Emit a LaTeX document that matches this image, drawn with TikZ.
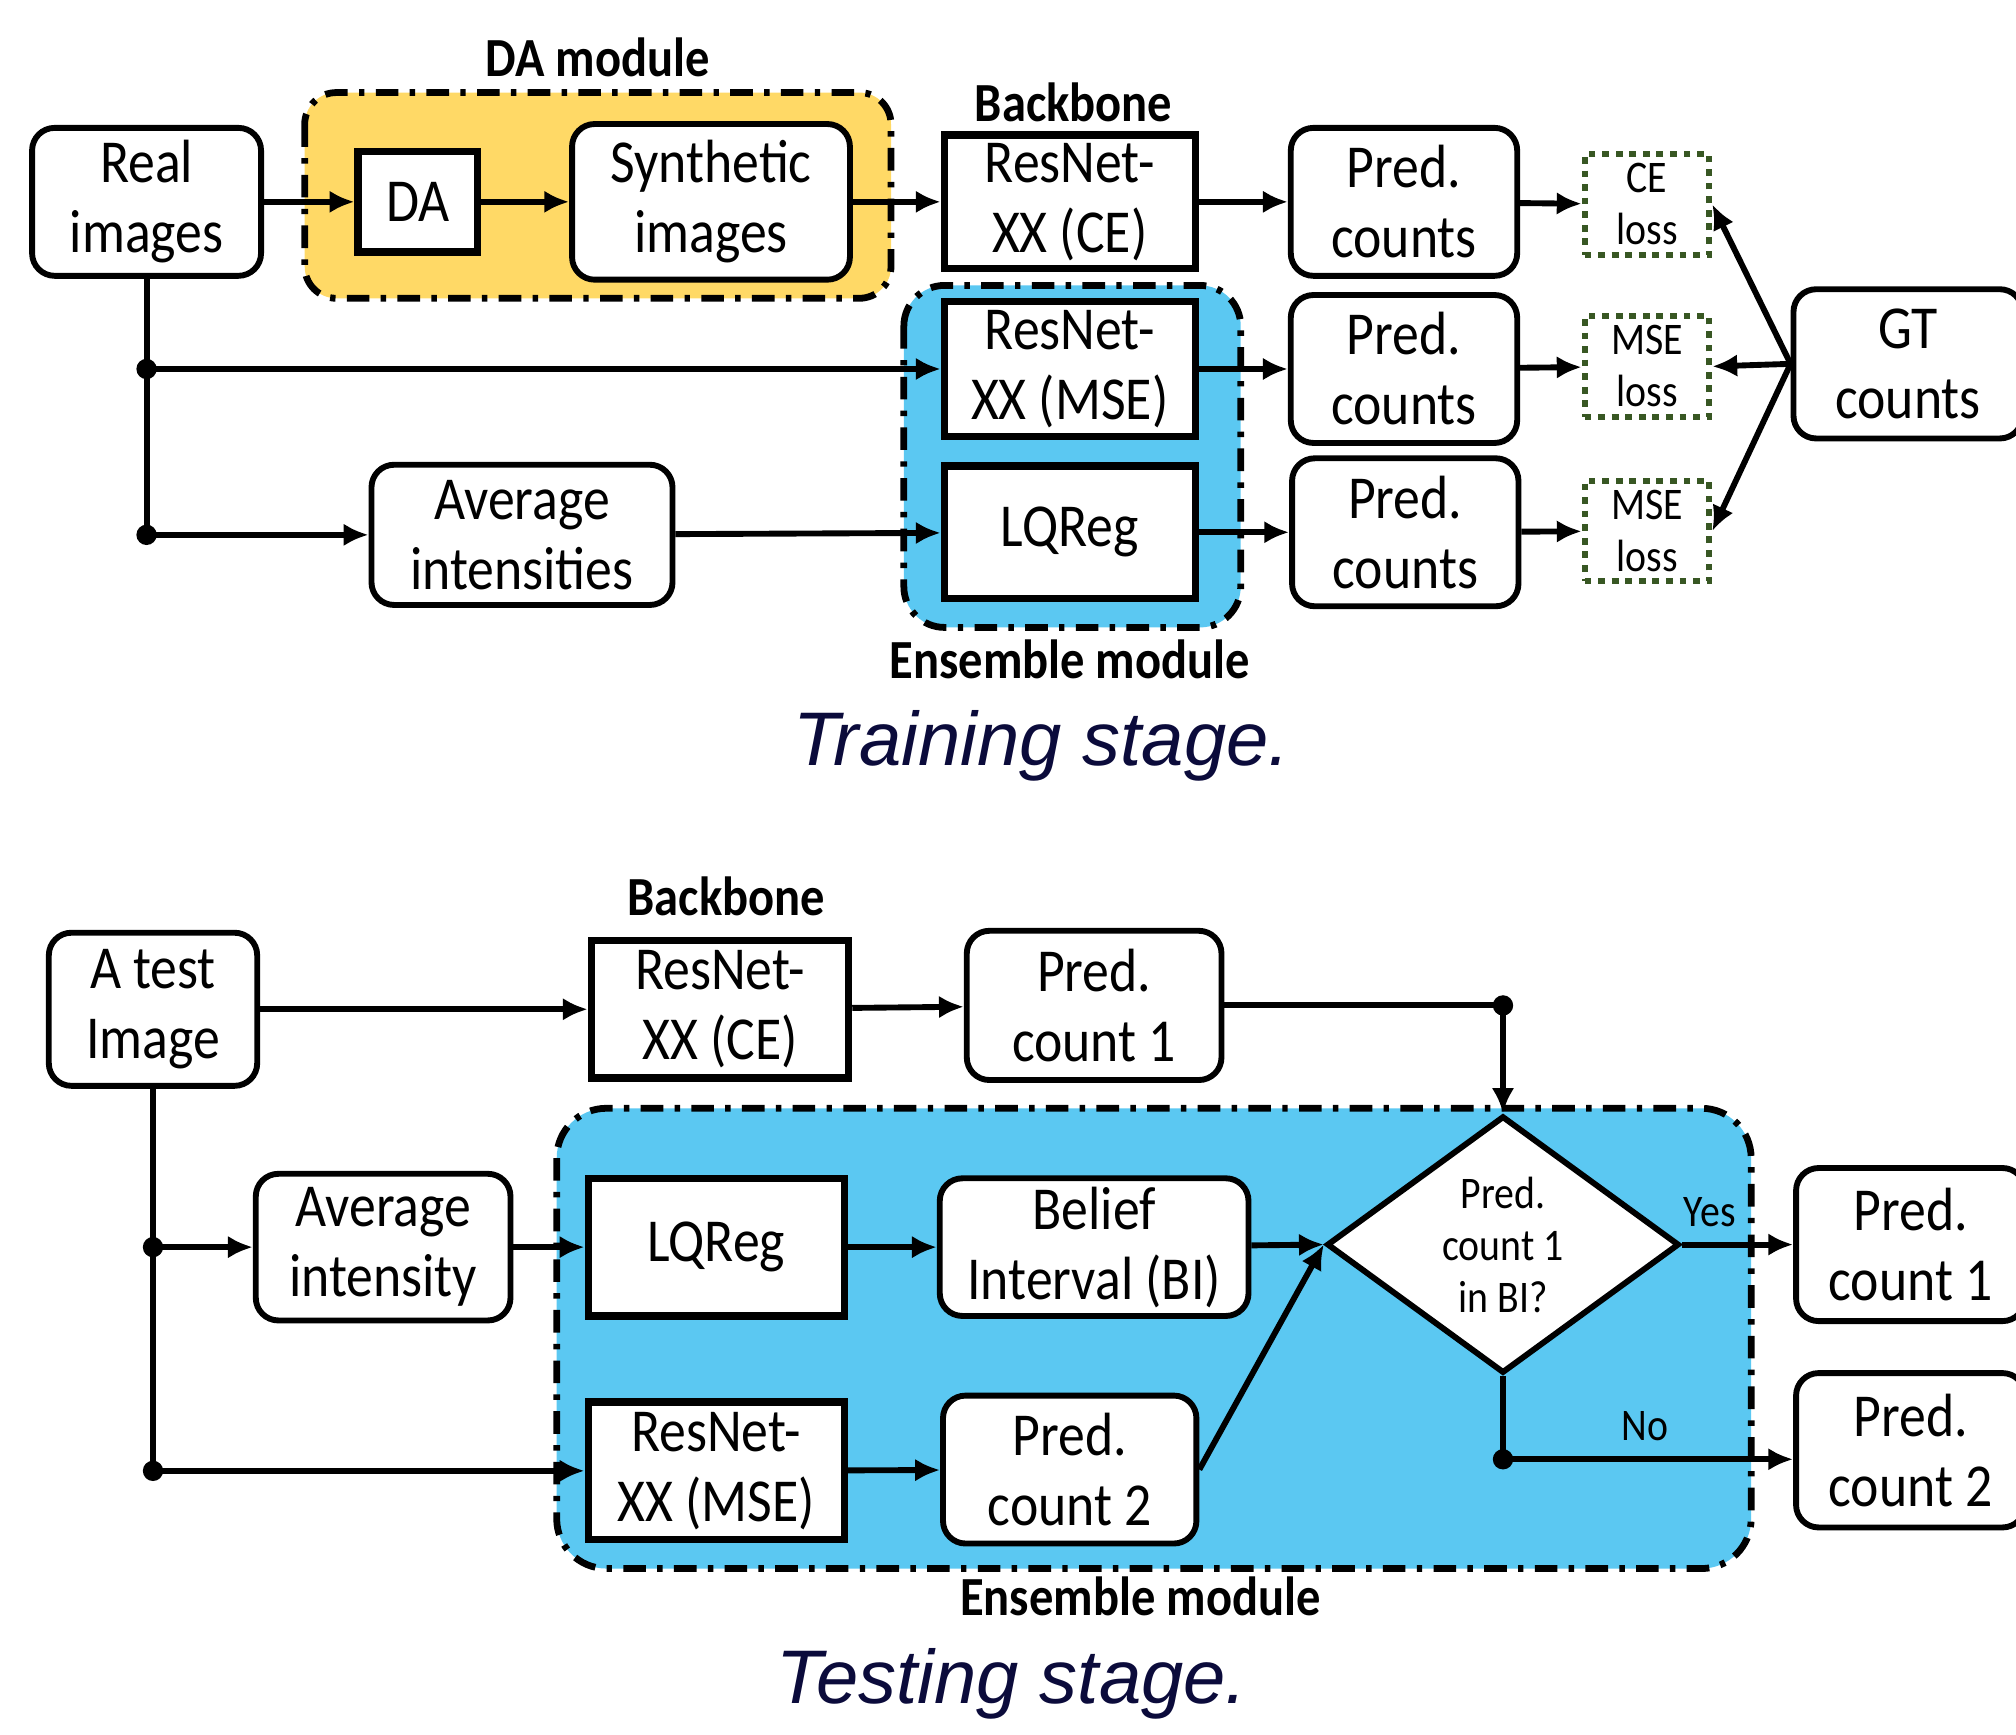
\documentclass[tikz,border=0pt]{standalone}
\usepackage{fontspec}
\setmainfont{Carlito}[FakeStretch=0.88]
\newfontfamily\stagefont{Liberation Sans}
\usetikzlibrary{shapes.geometric, arrows.meta}
\definecolor{damodule}{HTML}{FFD966}
\definecolor{ensmodule}{HTML}{5BC8F2}
\definecolor{lossgreen}{HTML}{385723}
\definecolor{stagenavy}{HTML}{0B0B3B}
\newcommand{\boxfont}{\fontsize{13.5}{15.5}\selectfont}
\newcommand{\lossfont}{\fontsize{10}{11.5}\selectfont}
\newcommand{\tagfont}{\fontsize{12.2}{14}\selectfont\bfseries}
\newcommand{\stagetitle}{\stagefont\itshape\fontsize{16.8}{20}\selectfont}
\tikzstyle{roundbox} = [rectangle, 
rounded corners=5pt, 
draw=black, 
line width=1.3pt, 
fill=white, 
text centered, 
align=center, 
font=\boxfont, 
inner sep=0pt]
\tikzstyle{netbox} = [rectangle, 
draw=black, 
line width=1.6pt, 
fill=white, 
text centered, 
align=center, 
font=\boxfont, 
inner sep=0pt]
\tikzstyle{lossbox} = [rectangle, 
minimum width=0.97cm, 
minimum height=0.78cm, 
draw=lossgreen, 
line width=1.3pt, 
dash pattern=on 1.5pt off 1.5pt, 
fill=white, 
align=center, 
font=\lossfont, 
inner sep=0pt]
\tikzstyle{decision} = [diamond, 
aspect=1.37, 
minimum width=2.74cm, 
minimum height=2cm, 
draw=black, 
line width=1.3pt, 
fill=white, 
align=center, 
font=\lossfont, 
inner sep=0pt]
\tikzstyle{module} = [draw=black, line width=1.5pt, dash pattern=on 5pt off 2.5pt on 1.2pt off 2.5pt]
\tikzstyle{joint} = [circle, fill=black, inner sep=0pt, minimum size=4.5pt]
\tikzstyle{tag} = [font=\tagfont]
\tikzstyle{stage} = [font=\stagetitle, text=stagenavy]
\tikzstyle{arrow} = [line width=1.3pt,->,>={Latex[length=5.5pt,width=5pt]}]

\begin{document}
\begin{tikzpicture}[x=0.01cm, y=-0.01cm]
  \useasboundingbox (0,0) rectangle (1568,1349);

  % training stage
  \draw [module, fill=damodule, rounded corners=7pt] (237,72) rectangle (693,232);
  \draw [module, fill=ensmodule, rounded corners=9pt] (703,222) rectangle (965,488);
  \node (damod) [tag] at (465,45) {DA module};
  \node (bbtop) [tag] at (835,80) {Backbone};
  \node (enstop) [tag] at (832,513) {Ensemble module};
  \node (train) [stage] at (810,580) {Training stage.};

  \node (real) [roundbox, minimum width=1.78cm, minimum height=1.15cm] at (114,157) {Real\\images};
  \node (da) [netbox, minimum width=0.93cm, minimum height=0.78cm] at (325,157) {DA};
  \node (synth) [roundbox, minimum width=2.16cm, minimum height=1.21cm] at (553,157) {Synthetic\\images};
  \node (rescetop) [netbox, minimum width=1.95cm, minimum height=1.04cm] at (832,157) {ResNet-\\XX (CE)};
  \node (resmsetop) [netbox, minimum width=1.95cm, minimum height=1.05cm] at (832,287) {ResNet-\\XX (MSE)};
  \node (lqregtop) [netbox, minimum width=1.95cm, minimum height=1.03cm] at (832,414) {LQReg};
  \node (avgtop) [roundbox, minimum width=2.34cm, minimum height=1.09cm] at (406,416) {Average\\intensities};
  \node (predtop1) [roundbox, minimum width=1.76cm, minimum height=1.15cm] at (1092,157) {Pred.\\counts};
  \node (predtop2) [roundbox, minimum width=1.76cm, minimum height=1.15cm] at (1092,287) {Pred.\\counts};
  \node (predtop3) [roundbox, minimum width=1.76cm, minimum height=1.15cm] at (1093,414) {Pred.\\counts};
  \node (lossce) [lossbox] at (1281,159) {CE\\loss};
  \node (lossmse1) [lossbox] at (1281,285) {MSE\\loss};
  \node (lossmse2) [lossbox] at (1281,413) {MSE\\loss};
  \node (gt) [roundbox, minimum width=1.78cm, minimum height=1.16cm] at (1484,283) {GT\\counts};
  \node (j1) [joint] at (114,287) {};
  \node (j2) [joint] at (114,416) {};

  \draw [arrow] (real) -- (da);
  \draw [arrow] (da) -- (synth);
  \draw [arrow] (synth) -- (rescetop);
  \draw [arrow] (rescetop) -- (predtop1);
  \draw [arrow] (predtop1) -- (lossce);
  \draw [line width=1.3pt] (real.south) -- (j2.center);
  \draw [arrow] (j1.center) -- (resmsetop);
  \draw [arrow] (j2.center) -- (avgtop);
  \draw [arrow] (avgtop) -- (lqregtop);
  \draw [arrow] (resmsetop) -- (predtop2);
  \draw [arrow] (lqregtop) -- (predtop3);
  \draw [arrow] (predtop2) -- (lossmse1);
  \draw [arrow] (predtop3) -- (lossmse2);
  \draw [arrow] (gt.west) -- (lossce.east);
  \draw [arrow] (gt.west) -- (lossmse1.east);
  \draw [arrow] (gt.west) -- (lossmse2.east);

  % testing stage
  \draw [module, fill=ensmodule, rounded corners=11pt] (433,862) rectangle (1362,1220);
  \node (bbbot) [tag] at (565,697) {Backbone};
  \node (ensbot) [tag] at (887,1242) {Ensemble module};
  \node (test) [stage] at (787,1310) {Testing stage.};

  \node (atest) [roundbox, minimum width=1.62cm, minimum height=1.19cm] at (119,785) {A test\\Image};
  \node (rescebot) [netbox, minimum width=2cm, minimum height=1.07cm] at (560,785) {ResNet-\\XX (CE)};
  \node (pc1) [roundbox, minimum width=1.98cm, minimum height=1.16cm] at (851,782) {Pred.\\count 1};
  \node (avgbot) [roundbox, minimum width=1.98cm, minimum height=1.14cm] at (298,970) {Average\\intensity};
  \node (lqregbot) [netbox, minimum width=1.99cm, minimum height=1.07cm] at (557,970) {LQReg};
  \node (bi) [roundbox, minimum width=2.4cm, minimum height=1.07cm] at (851,970) {Belief\\Interval (BI)};
  \node (resmsebot) [netbox, minimum width=1.99cm, minimum height=1.07cm] at (557,1144) {ResNet-\\XX (MSE)};
  \node (pc2) [roundbox, minimum width=1.97cm, minimum height=1.15cm] at (832,1143) {Pred.\\count 2};
  \node (check) [decision] at (1169,968) {Pred.\\count 1\\in BI?};
  \node (out1) [roundbox, minimum width=1.78cm, minimum height=1.19cm] at (1486,968) {Pred.\\count 1};
  \node (out2) [roundbox, minimum width=1.78cm, minimum height=1.2cm] at (1486,1128) {Pred.\\count 2};
  \node (j3) [joint] at (1169,782) {};
  \node (j4) [joint] at (119,970) {};
  \node (j5) [joint] at (119,1144) {};
  \node (j6) [joint] at (1169,1135) {};

  \draw [arrow] (atest) -- (rescebot);
  \draw [arrow] (rescebot) -- (pc1);
  \draw [line width=1.3pt] (pc1) -- (j3.center);
  \draw [arrow] (j3.center) -- (check.north);
  \draw [line width=1.3pt] (atest.south) -- (j5.center);
  \draw [arrow] (j4.center) -- (avgbot);
  \draw [arrow] (j5.center) -- (resmsebot);
  \draw [arrow] (avgbot) -- (lqregbot);
  \draw [arrow] (lqregbot) -- (bi);
  \draw [arrow] (resmsebot) -- (pc2);
  \draw [arrow] (bi) -- (check.west);
  \draw [arrow] (pc2.east) -- (check.west);
  \draw [arrow] (check.east) -- node[pos=0.25, above, font=\lossfont] {Yes} (out1);
  \draw [line width=1.3pt] (check.south) -- (j6.center);
  \draw [arrow] (j6.center) -- node[pos=0.49, above, font=\lossfont] {No} (j6 -| out2.west);

\end{tikzpicture}
\end{document}
